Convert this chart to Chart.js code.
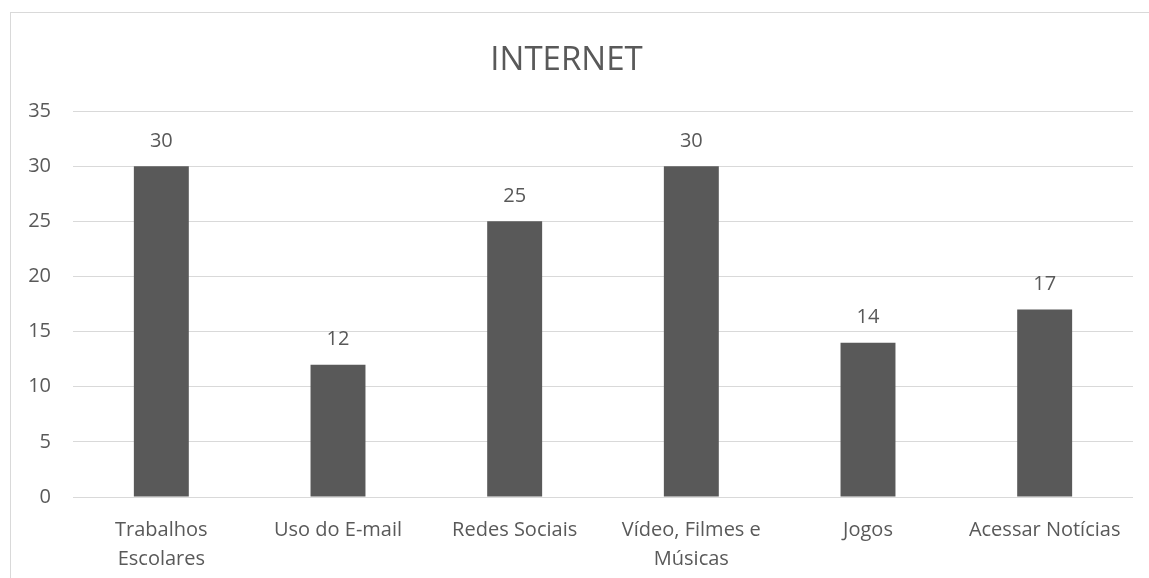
<!DOCTYPE html>
<html>
<head>
<meta charset="utf-8">
<script src="https://cdn.jsdelivr.net/npm/chart.js@4"></script>
<style>
  html, body { margin: 0; padding: 0; background: #fff; }
  #frame {
    position: absolute; left: 10px; top: 12px; right: 0; bottom: 0;
    border-left: 1px solid #d9d9d9; border-top: 1px solid #d9d9d9;
  }
  #wrap { position: absolute; left: 0; top: 0; width: 1149px; height: 578px; }
</style>
</head>
<body>
<div id="frame"></div>
<div id="wrap"><canvas id="internetChart" width="1149" height="578"></canvas></div>
<script>
const categories = [
  ['Trabalhos', 'Escolares'],
  'Uso do E-mail',
  'Redes Sociais',
  ['Vídeo, Filmes e', 'Músicas'],
  'Jogos',
  'Acessar Notícias'
];
const respostas = [30, 12, 25, 30, 14, 17];
const yTicks = [0, 5, 10, 15, 20, 25, 30, 35];

const textColor = '#595959';
const fontFamily = '"Open Sans", "Noto Sans", sans-serif';

// values printed above each bar
const valueLabels = {
  id: 'valueLabels',
  afterDatasetsDraw(chart) {
    const ctx = chart.ctx;
    const meta = chart.getDatasetMeta(0);
    ctx.save();
    ctx.font = '20px ' + fontFamily;
    ctx.fillStyle = textColor;
    ctx.textAlign = 'center';
    ctx.textBaseline = 'middle';
    meta.data.forEach((bar, i) => {
      ctx.fillText(String(chart.data.datasets[0].data[i]), bar.x, bar.y - 25);
    });
    ctx.restore();
  }
};

const ctx = document.getElementById('internetChart').getContext('2d');
new Chart(ctx, {
  type: 'bar',
  data: {
    labels: categories,
    datasets: [{
      data: respostas,
      backgroundColor: '#595959',
      borderWidth: 0,
      categoryPercentage: 1,
      barPercentage: 0.311
    }]
  },
  options: {
    responsive: false,
    animation: false,
    layout: { padding: { left: 0, right: 16, top: 0, bottom: 0 } },
    plugins: {
      legend: { display: false },
      tooltip: { enabled: false },
      title: {
        display: true,
        text: 'INTERNET',
        color: textColor,
        font: { family: fontFamily, size: 33, weight: 'normal', lineHeight: 1.2 },
        padding: { top: 41, bottom: 30.5 }
      }
    },
    scales: {
      x: {
        grid: { display: false, drawTicks: false },
        border: { display: false },
        ticks: {
          color: textColor,
          font: { family: fontFamily, size: 20, lineHeight: 1.45 },
          padding: 19,
          maxRotation: 0,
          autoSkip: false
        },
        afterFit(scale) { scale.height = 81; }
      },
      y: {
        min: 0,
        max: 35,
        grid: { color: '#d9d9d9', lineWidth: 1, drawTicks: false },
        border: { display: false },
        afterBuildTicks(scale) { scale.ticks = yTicks.map(v => ({ value: v })); },
        ticks: {
          color: textColor,
          font: { family: fontFamily, size: 20 },
          padding: 22
        },
        afterFit(scale) { scale.width = 73; }
      }
    }
  },
  plugins: [valueLabels]
});
</script>
</body>
</html>
